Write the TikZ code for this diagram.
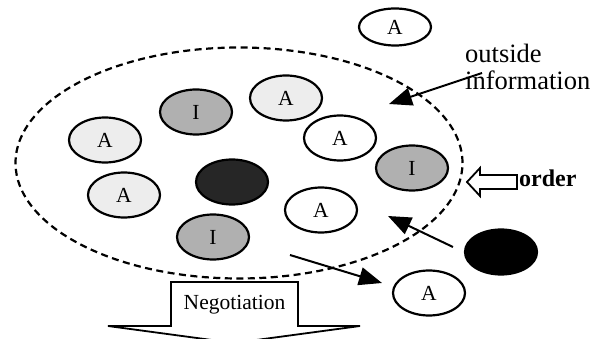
\documentclass[tikz,border=0pt]{standalone}
\usepackage{fontspec}
\setmainfont{Liberation Serif}
\usetikzlibrary{arrows.meta,shapes.geometric}
\tikzset{
  agent/.style={ellipse,draw=black,line width=2.2pt,minimum width=72pt,minimum height=45pt,inner sep=0pt,font=\fontsize{21.5}{24}\selectfont},
  lightag/.style={agent,fill=gray!14},
  whiteag/.style={agent,fill=white},
  infoag/.style={agent,fill=gray!62},
  darkag/.style={agent,fill=black!85},
  blackag/.style={agent,fill=black},
  world/.style={ellipse,draw=black,dash pattern=on 7pt off 4.5pt,line width=2.2pt,minimum width=447pt,minimum height=231pt,inner sep=0pt},
  conn/.style={line width=2pt,-{Triangle[length=23pt,width=18pt]}},
  bigtext/.style={font=\fontsize{26.5}{29}\selectfont,inner sep=0pt},
  ordertext/.style={font=\fontsize{24}{27}\selectfont\bfseries,inner sep=0pt},
  outline/.style={draw=black,line width=1.8pt,fill=white,line join=miter}
}
\begin{document}
\begin{tikzpicture}[x=1pt,y=-1pt]
\useasboundingbox (0,0) rectangle (600,339);
% environment
\node[world] (env) at (239,163) {};
% agents inside
\node[lightag] (A1) at (105,140) {A};
\node[infoag] (I1) at (196,112) {I};
\node[lightag] (A2) at (286,98) {A};
\node[whiteag] (A3) at (340,138) {A};
\node[infoag] (I2) at (412,168) {I};
\node[darkag] (D1) at (232,182) {};
\node[lightag] (A4) at (124,195) {A};
\node[whiteag] (A5) at (321,210) {A};
\node[infoag] (I3) at (213,237) {I};
% agents outside
\node[whiteag,minimum height=37pt] (Aout1) at (395,27) {A};
\node[blackag] (Dout) at (501,252) {};
\node[whiteag] (Aout2) at (429,293) {A};
% texts
\node[bigtext,anchor=base west] (out1) at (465,63) {outside};
\node[bigtext,anchor=base west] (out2) at (465,90) {information};
\node[ordertext,anchor=base west] (ord) at (519,187) {order};
% order arrow (hollow, pointing left)
\draw[outline] (467,182) -- (480,168) -- (480,175) -- (517,175) -- (517,189) -- (480,189) -- (480,196) -- cycle;
% arrows
\coordinate (infostart) at (482,73);
\coordinate (infotip) at (389,104);
\draw[conn] (infostart) -- (infotip);
\coordinate (dstart) at (453,247);
\coordinate (dtip) at (388,216);
\draw[conn] (dstart) -- (dtip);
\coordinate (ostart) at (290,255);
\coordinate (otip) at (382,283);
\draw[conn] (ostart) -- (otip);
% negotiation arrow
\draw[outline] (171,282) -- (298,282) -- (298,326) -- (360,326) -- (234,343) -- (108,326) -- (171,326) -- cycle;
\node[font=\fontsize{21.5}{24}\selectfont,inner sep=0pt] (neg) at (234.5,305) {Negotiation};
\end{tikzpicture}
\end{document}
